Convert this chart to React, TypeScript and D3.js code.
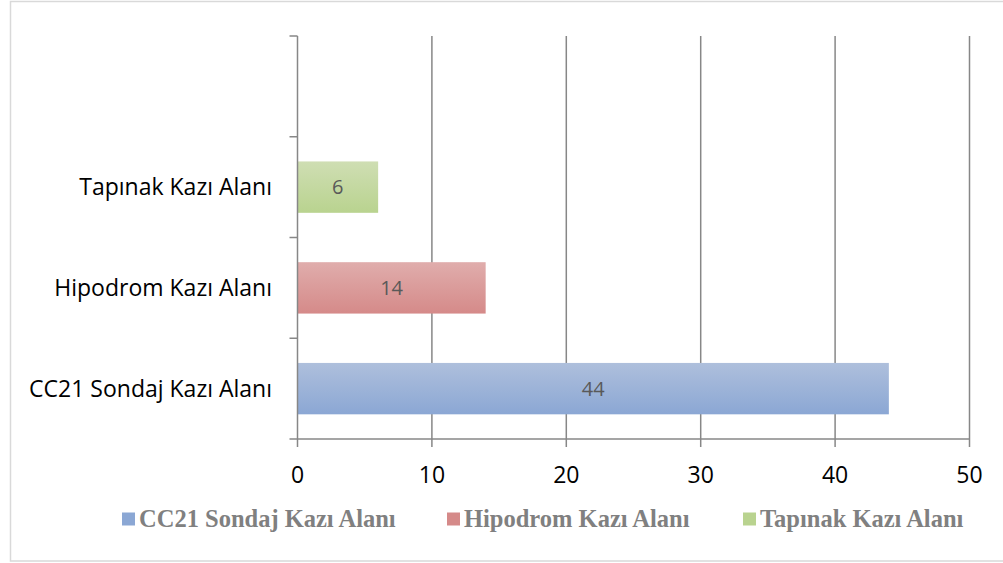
import React, { useEffect, useRef } from "react";
import * as d3 from "d3";

const categories = ["CC21 Sondaj Kazı Alanı", "Hipodrom Kazı Alanı", "Tapınak Kazı Alanı", ""];
const seriesNames = ["CC21 Sondaj Kazı Alanı", "Hipodrom Kazı Alanı", "Tapınak Kazı Alanı"];
const seriesValues = [44, 14, 6];
const xTicks = [0, 10, 20, 30, 40, 50];
const seriesColors = [
  ["#aebfdc", "#8ba7d4"],
  ["#e0adac", "#d58a89"],
  ["#cfdeb3", "#b9d38f"],
];

export default function App() {
  const ref = useRef<SVGSVGElement | null>(null);
  useEffect(() => {
    const svg = d3.select(ref.current);
    svg.selectAll("*").remove();
    const W = 1003, H = 563;
    const left = 297.5, right = 969.5, top = 36, bottom = 439;
    const sans = "'Open Sans', 'Liberation Sans', sans-serif";

    const defs = svg.append("defs");
    seriesColors.forEach((c, i) => {
      const g = defs.append("linearGradient").attr("id", "g" + i).attr("x1", 0).attr("y1", 0).attr("x2", 0).attr("y2", 1);
      g.append("stop").attr("offset", "0%").attr("stop-color", c[0]);
      g.append("stop").attr("offset", "100%").attr("stop-color", c[1]);
    });
    const lg = defs.append("linearGradient").attr("id", "lg").attr("x1", 0).attr("y1", 0).attr("x2", 1).attr("y2", 0);
    lg.append("stop").attr("offset", "0%").attr("stop-color", "#e8e8e8");
    lg.append("stop").attr("offset", "100%").attr("stop-color", "#ffffff");

    svg.append("rect").attr("x", 0).attr("y", 0).attr("width", W).attr("height", H).attr("fill", "#fff");
    svg.append("rect").attr("x", 10.5).attr("y", 1.5).attr("width", 1000).attr("height", 559.5)
      .attr("fill", "none").attr("stroke", "#d9d9d9").attr("stroke-width", 1.5);

    const x = d3.scaleLinear().domain([0, 50]).range([left, right]);
    const keys = categories.map((c, i) => String(i));
    const y = d3.scaleBand<string>().domain(keys).range([bottom, top]).paddingInner(0.49).paddingOuter(0.245);
    const yb = d3.scaleBand<string>().domain(keys).range([bottom, top]);

    const gridColor = "#878787";
    xTicks.forEach((t) => {
      if (t === 0) return;
      svg.append("line").attr("x1", x(t)).attr("x2", x(t)).attr("y1", top).attr("y2", bottom + 8)
        .attr("stroke", gridColor).attr("stroke-width", 1.5);
    });

    seriesValues.forEach((v, i) => {
      const key = String(i);
      svg.append("rect").attr("x", x(0)).attr("y", y(key)!).attr("width", x(v) - x(0)).attr("height", y.bandwidth())
        .attr("fill", `url(#g${i})`);
      svg.append("text").attr("x", (x(0) + x(v)) / 2).attr("y", y(key)! + y.bandwidth() / 2)
        .attr("dy", "0.36em").attr("text-anchor", "middle").attr("fill", "#595959")
        .attr("font-family", sans).attr("font-size", 20).text(String(v));
    });

    svg.append("line").attr("x1", x(0)).attr("x2", x(0)).attr("y1", top).attr("y2", bottom + 8)
      .attr("stroke", gridColor).attr("stroke-width", 1.5);
    svg.append("line").attr("x1", x(0) - 8).attr("x2", right).attr("y1", bottom).attr("y2", bottom)
      .attr("stroke", gridColor).attr("stroke-width", 1.5);
    keys.forEach((k) => {
      const yy = yb(k)!;
      svg.append("line").attr("x1", x(0) - 8).attr("x2", x(0)).attr("y1", yy).attr("y2", yy)
        .attr("stroke", gridColor).attr("stroke-width", 1.5);
    });

    xTicks.forEach((t) => {
      svg.append("text").attr("x", x(t)).attr("y", 474.7).attr("dy", "0.36em").attr("text-anchor", "middle")
        .attr("fill", "#000").attr("font-family", sans).attr("font-size", 23).text(String(t));
    });
    categories.forEach((c, i) => {
      if (!c) return;
      const k = String(i);
      svg.append("text").attr("x", 272).attr("y", yb(k)! + yb.bandwidth() / 2).attr("dy", "0.36em").attr("text-anchor", "end")
        .attr("fill", "#000").attr("font-family", sans).attr("font-size", 23).text(c);
    });

    const legendX = [122, 447, 743];
    seriesNames.forEach((n, i) => {
      svg.append("rect").attr("x", legendX[i]).attr("y", 512.5).attr("width", 13).attr("height", 13).attr("fill", seriesColors[i][1]);
      svg.append("text").attr("x", legendX[i] + 17).attr("y", 526.5)
        .attr("fill", "#808080").attr("font-weight", "bold")
        .attr("font-family", "'Liberation Serif', 'Times New Roman', serif").attr("font-size", 24.5).text(n);
    });
  }, []);
  return (
    <div style={{ position: "fixed", left: 0, top: 0 }}>
      <svg ref={ref} width={1003} height={563} style={{ display: "block" }} />
    </div>
  );
}
